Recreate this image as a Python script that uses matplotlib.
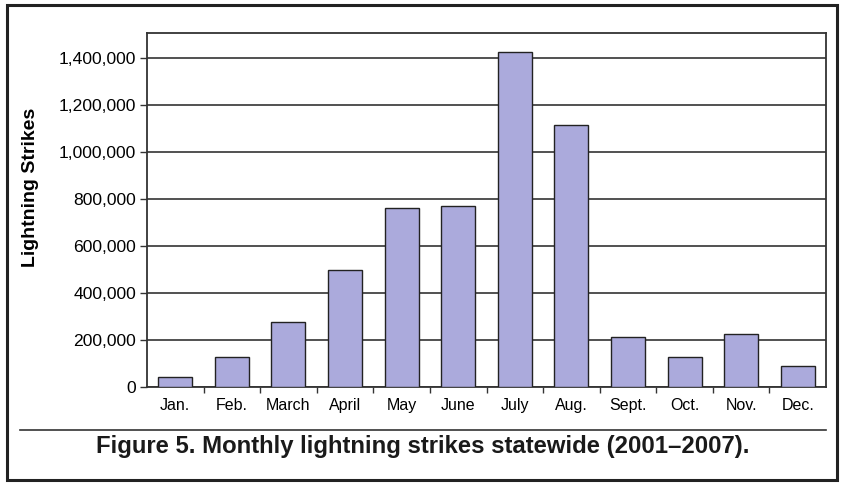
import matplotlib
matplotlib.use("Agg")
import matplotlib.pyplot as plt
from matplotlib.ticker import FuncFormatter
from matplotlib.patches import Rectangle
from matplotlib.lines import Line2D

# %% data
months = ["Jan.", "Feb.", "March", "April", "May", "June",
          "July", "Aug.", "Sept.", "Oct.", "Nov.", "Dec."]
strikes = [44000, 126000, 275000, 498000, 762000, 771000,
           1424000, 1115000, 211000, 126000, 225000, 89000]
yticks = [0, 200000, 400000, 600000, 800000, 1000000, 1200000, 1400000]

caption = "Figure 5. Monthly lightning strikes statewide (2001\u20132007)."

# %% figure
W, H = 843, 483
fig = plt.figure(figsize=(W / 100, H / 100), dpi=100)
plt.rcParams["font.family"] = ["Liberation Sans", "DejaVu Sans"]

# plot area in pixels: left 147, right 826, top 33, bottom 387
ax = fig.add_axes([147 / W, 1 - 387 / H, (826 - 147) / W, (387 - 33) / H])

x = list(range(len(months)))
ax.bar(x, strikes, width=0.6, color="#abaadc", edgecolor="#222222", linewidth=1.0, zorder=3)

ax.set_xlim(-0.5, len(months) - 0.5)
ax.set_ylim(0, 1505000)
ax.set_yticks(yticks)
ax.yaxis.set_major_formatter(FuncFormatter(lambda v, p: f"{int(v):,}"))
ax.grid(axis="y", color="#333333", linewidth=1.2, zorder=1)
ax.tick_params(axis="y", length=5, width=1, color="#333333", labelsize=12.6, pad=3)

# category boundary ticks on x axis, labels in between
ax.set_xticks([i + 0.5 for i in x[:-1]])
ax.set_xticklabels([])
ax.set_xticks(x, minor=True)
ax.set_xticklabels(months, minor=True, fontsize=11.5,
                   family=["Liberation Sans Narrow", "Liberation Sans"])
ax.tick_params(axis="x", which="major", length=4, width=1, color="#333333")
ax.tick_params(axis="x", which="minor", length=0, pad=8)

for s in ax.spines.values():
    s.set_color("#333333")
    s.set_linewidth(1.3)

fig.text(31 / W, 1 - 187 / H, "Lightning Strikes", rotation=90, fontsize=14,
         fontweight="bold", ha="center", va="center")

# caption and separator line
fig.add_artist(Line2D([20 / W, 826 / W], [1 - 430 / H, 1 - 430 / H],
                      color="#333333", linewidth=1.2))
fig.text(423 / W, 1 - 446 / H, caption, fontsize=17.2, fontweight="bold",
         ha="center", va="center", color="#1a1a1a")

# outer frame
fig.add_artist(Rectangle((7 / W, 1 - 480 / H), (837 - 7) / W, (480 - 5) / H,
                         fill=False, edgecolor="#222222", linewidth=2.2))

fig.savefig("out.png", dpi=100)
